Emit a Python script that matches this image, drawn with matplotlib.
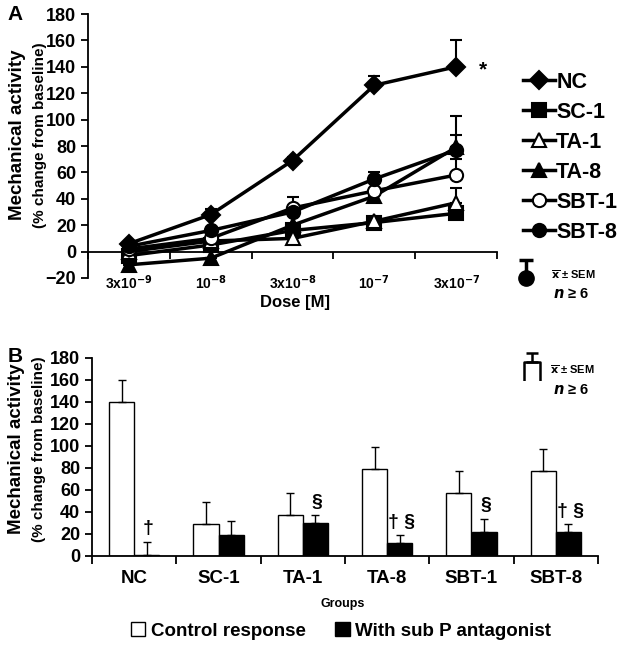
import numpy as np
import matplotlib
matplotlib.use('Agg')
import matplotlib.pyplot as plt
from matplotlib.lines import Line2D
from matplotlib.patches import Patch

plt.rcParams['font.family'] = ['Liberation Sans', 'DejaVu Sans']
plt.rcParams['font.weight'] = 'bold'
plt.rcParams['mathtext.default'] = 'bf'

# Panel A data: dose-response
doses = [r'3x10$^{-9}$', r'10$^{-8}$', r'3x10$^{-8}$', r'10$^{-7}$', r'3x10$^{-7}$']
nc = [6, 28, 69, 126, 140]
sc1 = [-3, 5, 16, 22, 29]
ta1 = [0, 8, 10, 23, 37]
ta8 = [-10, -5, 20, 42, 79]
sbt1 = [2, 10, 33, 46, 58]
sbt8 = [4, 16, 30, 55, 77]
nc_err = [2, 4, 3, 7, 20]
sc1_err = [0, 0, 0, 0, 0]
ta1_err = [0, 0, 0, 0, 11]
ta8_err = [0, 0, 0, 0, 9]
sbt1_err = [0, 0, 8, 0, 12]
sbt8_err = [0, 0, 0, 5, 26]

# Panel B data: response with/without antagonist
groups = ['NC', 'SC-1', 'TA-1', 'TA-8', 'SBT-1', 'SBT-8']
control = [140, 29, 37, 79, 57, 77]
control_err = [20, 20, 20, 20, 20, 20]
antag = [1, 19, 30, 12, 22, 22]
antag_err = [12, 13, 7, 7, 12, 7]
signif = ['†', '', '§', '† §', '§', '† §']

fig = plt.figure(figsize=(6.2, 6.48), dpi=100)

# ---------------- Panel A ----------------
axA = fig.add_axes([88/620, 1-278/648, (497-88)/620, (278-14)/648])
x = np.arange(len(doses))
series = [
    ('NC', nc, nc_err, 'D', 'black'),
    ('SC-1', sc1, sc1_err, 's', 'black'),
    ('TA-1', ta1, ta1_err, '^', 'white'),
    ('TA-8', ta8, ta8_err, '^', 'black'),
    ('SBT-1', sbt1, sbt1_err, 'o', 'white'),
    ('SBT-8', sbt8, sbt8_err, 'o', 'black'),
]
handles = []
for name, vals, err, mk, fc in series:
    axA.errorbar(x, vals, yerr=[np.zeros(len(err)), err], fmt='none',
                 ecolor='black', elinewidth=1.5, capsize=4, capthick=1.5, zorder=2)
    axA.plot(x, vals, color='black', lw=2.5, marker=mk, markersize=9.5,
             markerfacecolor=fc, markeredgecolor='black', markeredgewidth=1.5, zorder=3)
    handles.append(Line2D([], [], color='black', lw=2.5, marker=mk, markersize=9.5,
                          markerfacecolor=fc, markeredgecolor='black', markeredgewidth=1.5))

axA.set_xlim(-0.5, len(doses) - 0.5)
axA.set_ylim(-20, 180)
axA.set_yticks(np.arange(-20, 181, 20))
axA.set_yticklabels(['\u221220'] + [str(v) for v in range(0, 181, 20)])
axA.spines['top'].set_visible(False)
axA.spines['right'].set_visible(False)
axA.spines['bottom'].set_position(('data', 0))
axA.spines['left'].set_linewidth(1.3)
axA.spines['bottom'].set_linewidth(1.3)
axA.set_xticks(x)
axA.set_xticklabels(doses, fontsize=10)
axA.set_xticks(np.arange(-0.5, len(doses), 1), minor=True)
axA.tick_params(axis='x', which='major', length=0, pad=16)
axA.tick_params(axis='x', which='minor', length=5, width=1.3, direction='out')
axA.tick_params(axis='y', labelsize=13, length=5, width=1.3)
axA.text(4.28, 138, '*', fontsize=15, ha='left', va='center')

fig.text(18/620, 1-135/648, 'Mechanical activity', rotation=90, fontsize=13.5,
         ha='center', va='center')
fig.text(40/620, 1-135/648, '(% change from baseline)', rotation=90, fontsize=11,
         ha='center', va='center')
fig.text(295/620, 1-303/648, 'Dose [M]', fontsize=12, ha='center', va='center')
fig.text(15/620, 1-15/648, 'A', fontsize=15, ha='center', va='center')

fig.legend(handles, [s[0] for s in series], loc='upper left',
           bbox_to_anchor=(512/620, 1-61/648), frameon=False, fontsize=15.5,
           handlelength=1.5, handletextpad=0.05, labelspacing=0.42, borderpad=0)

# mean +/- SEM symbol for panel A
axS = fig.add_axes([515/620, 1-290/648, 22/620, 40/648])
axS.errorbar([0], [0.3], yerr=[[0], [0.45]], fmt='o', color='black', markersize=11,
             capsize=5, capthick=2.5, elinewidth=2.5)
axS.set_xlim(-1, 1)
axS.set_ylim(0, 1)
axS.axis('off')
fig.text(551/620, 1-275/648, r'$\overline{\mathrm{x}}$ ± SEM', fontsize=8,
         ha='left', va='center')
fig.text(553/620, 1-294/648, r'$\mathit{n}$ ≥ 6', fontsize=10.5, ha='left', va='center')

# ---------------- Panel B ----------------
axB = fig.add_axes([92/620, 1-556/648, (598-92)/620, (556-358)/648])
xb = np.arange(len(groups))
w = 0.3
axB.bar(xb - w/2, control, width=w, color='white', edgecolor='black', linewidth=1,
        yerr=[np.zeros(len(groups)), control_err], error_kw=dict(ecolor='black',
        elinewidth=1, capsize=3, capthick=1))
axB.bar(xb + w/2, antag, width=w, color='black', edgecolor='black', linewidth=1,
        yerr=[np.zeros(len(groups)), antag_err], error_kw=dict(ecolor='black',
        elinewidth=1, capsize=3, capthick=1))
for i, s in enumerate(signif):
    if s:
        axB.text(xb[i] + w/2 + 0.02, antag[i] + antag_err[i] + 4, s, fontsize=14,
                 ha='center', va='bottom')

axB.set_xlim(-0.5, len(groups) - 0.5)
axB.set_ylim(0, 180)
axB.set_yticks(np.arange(0, 181, 20))
axB.spines['top'].set_visible(False)
axB.spines['right'].set_visible(False)
axB.spines['left'].set_linewidth(1.3)
axB.spines['bottom'].set_linewidth(1.3)
axB.set_xticks(xb)
axB.set_xticklabels(groups, fontsize=13.5)
axB.set_xticks(np.arange(-0.5, len(groups), 1), minor=True)
axB.tick_params(axis='x', which='major', length=0, pad=10)
axB.tick_params(axis='x', which='minor', length=6, width=1.3, direction='out')
axB.tick_params(axis='y', labelsize=13, length=5, width=1.3)

fig.text(17/620, 1-449/648, 'Mechanical activity', rotation=90, fontsize=13.5,
         ha='center', va='center')
fig.text(39/620, 1-449/648, '(% change from baseline)', rotation=90, fontsize=11,
         ha='center', va='center')
fig.text(15/620, 1-356/648, 'B', fontsize=15, ha='center', va='center')
fig.text(343/620, 1-604/648, 'Groups', fontsize=9, ha='center', va='center')

# mean +/- SEM symbol for panel B (open bar, no base)
axS2 = fig.add_axes([518/620, 1-381/648, 28/620, 30/648])
axS2.errorbar([0], [0.65], yerr=[[0], [0.27]], fmt='none', ecolor='black',
              elinewidth=1.8, capsize=4, capthick=1.8)
axS2.plot([-0.35, -0.35, 0.35, 0.35], [0, 0.65, 0.65, 0], color='black', lw=1.8)
axS2.set_xlim(-0.6, 0.6)
axS2.set_ylim(0, 1)
axS2.axis('off')
fig.text(550/620, 1-370/648, r'$\overline{\mathrm{x}}$ ± SEM', fontsize=8,
         ha='left', va='center')
fig.text(553/620, 1-390/648, r'$\mathit{n}$ ≥ 6', fontsize=10.5, ha='left', va='center')

legB = [Patch(facecolor='white', edgecolor='black', label='Control response'),
        Patch(facecolor='black', edgecolor='black', label='With sub P antagonist')]
fig.legend(handles=legB, loc='center', bbox_to_anchor=(341/620, 1-631/648), ncol=2,
           frameon=False, fontsize=13.5, handlelength=0.75, handleheight=0.75,
           handletextpad=0.3, columnspacing=1.6, borderpad=0)

fig.savefig('out.png', dpi=100)
